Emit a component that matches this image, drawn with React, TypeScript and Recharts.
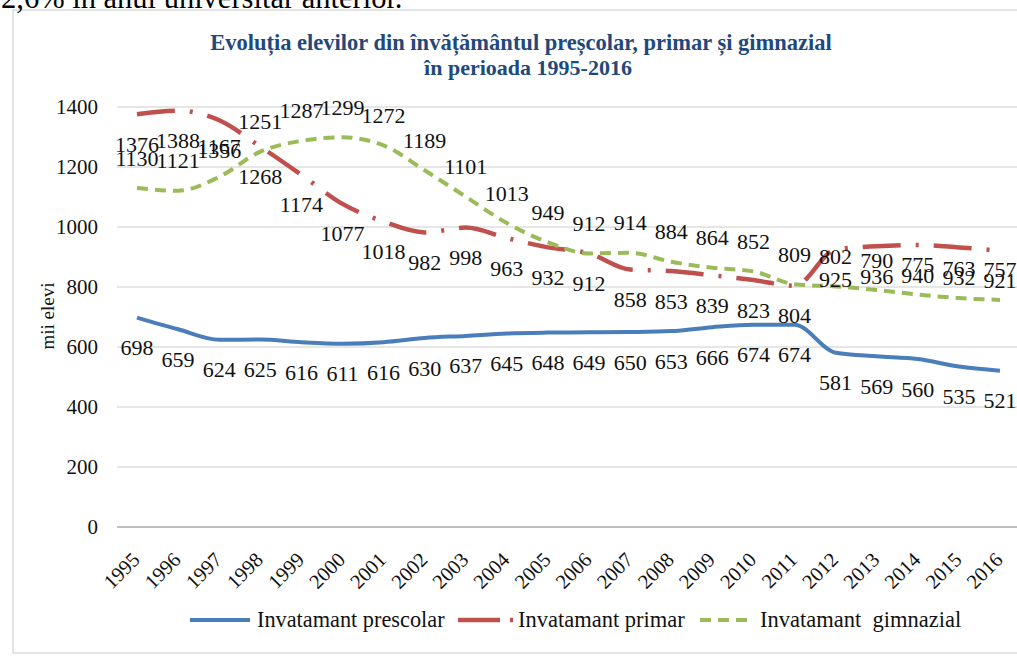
import React from 'react';
import { LineChart, Line, XAxis, YAxis, CartesianGrid, LabelList } from 'recharts';

const years = ['1995', '1996', '1997', '1998', '1999', '2000', '2001', '2002', '2003', '2004', '2005', '2006', '2007', '2008', '2009', '2010', '2011', '2012', '2013', '2014', '2015', '2016'];
const prescolar = [698, 659, 624, 625, 616, 611, 616, 630, 637, 645, 648, 649, 650, 653, 666, 674, 674, 581, 569, 560, 535, 521];
const primar = [1376, 1388, 1356, 1268, 1174, 1077, 1018, 982, 998, 963, 932, 912, 858, 853, 839, 823, 804, 925, 936, 940, 932, 921];
const gimnazial = [1130, 1121, 1167, 1251, 1287, 1299, 1272, 1189, 1101, 1013, 949, 912, 914, 884, 864, 852, 809, 802, 790, 775, 763, 757];
const yTicks = [0, 200, 400, 600, 800, 1000, 1200, 1400];

const seriesNames = ['Invatamant prescolar', 'Invatamant primar', 'Invatamant  gimnazial'];
const titleLines = ['Evoluția elevilor din învățământul preșcolar, primar și gimnazial', 'în perioada 1995-2016'];
const topText = '2,6% în anul universitar anterior.';
const yLabel = 'mii elevi';

const data = years.map((y, i) => ({
  year: y,
  prescolar: prescolar[i],
  primar: primar[i],
  gimnazial: gimnazial[i],
}));

const SERIF = '"Liberation Serif", "Times New Roman", serif';
const BLUE = '#4a7ebb';
const RED = '#c0504d';
const GREEN = '#9bbb59';

const makeLabel = (dy: number) => (props: any) => {
  const { x, y, value } = props;
  return (
    <text x={x} y={y + dy} textAnchor="middle" dominantBaseline="central" fontFamily={SERIF} fontSize={22} fill="#111">
      {value}
    </text>
  );
};

const XTick = (props: any) => {
  const { x, y, payload } = props;
  const ax = x + 4;
  const ay = y + 26;
  return (
    <text x={ax} y={ay} textAnchor="end" transform={`rotate(-45, ${ax}, ${ay})`} fontFamily={SERIF} fontSize={20.5} fill="#111">
      {payload.value}
    </text>
  );
};

export default function App() {
  return (
    <div style={{ position: 'absolute', left: 0, top: 0, width: 1017, height: 656, overflow: 'hidden', background: '#fff' }}>
      <svg width={1017} height={656} style={{ position: 'absolute', left: 0, top: 0 }}>
        <rect x={13} y={10} width={1020} height={643} fill="none" stroke="#dcdcdc" strokeWidth={1.5} />
        <text x={1} y={8} fontFamily={SERIF} fontSize={30.5} fill="#000">{topText}</text>
      </svg>
      <div style={{ position: 'absolute', left: 0, top: 0 }}>
        <LineChart width={1031} height={656} data={data} margin={{ top: 107, right: 10, bottom: 0, left: 57 }}>
          <CartesianGrid vertical={false} stroke="#dedede" strokeWidth={1.5} />
          <XAxis dataKey="year" interval={0} tickLine={false} padding={{ left: 20, right: 21 }} axisLine={{ stroke: '#bfbfbf', strokeWidth: 2 }} height={129} tick={<XTick />} />
          <YAxis domain={[0, 1400]} ticks={yTicks} axisLine={false} tickLine={false} width={60} tick={{ fontFamily: SERIF, fontSize: 21, fill: '#111', dx: -11 }} />
          <Line dataKey="prescolar" type="monotone" stroke={BLUE} strokeWidth={4} dot={false} isAnimationActive={false}>
            <LabelList dataKey="prescolar" content={makeLabel(30)} />
          </Line>
          <Line dataKey="primar" type="monotone" stroke={RED} strokeWidth={4.5} strokeDasharray="38 15 3 15" dot={false} isAnimationActive={false}>
            <LabelList dataKey="primar" content={makeLabel(30)} />
          </Line>
          <Line dataKey="gimnazial" type="monotone" stroke={GREEN} strokeWidth={4} strokeDasharray="11 7" dot={false} isAnimationActive={false}>
            <LabelList dataKey="gimnazial" content={makeLabel(-30)} />
          </Line>
        </LineChart>
      </div>
      <svg width={1017} height={656} style={{ position: 'absolute', left: 0, top: 0, pointerEvents: 'none' }}>
        <text x={521} y={50} textAnchor="middle" fontFamily={SERIF} fontWeight="bold" fontSize={22.5} fill="#1f497d">{titleLines[0]}</text>
        <text x={528} y={75} textAnchor="middle" fontFamily={SERIF} fontWeight="bold" fontSize={22} fill="#1f497d">{titleLines[1]}</text>
        <text transform="translate(54,316) rotate(-90)" textAnchor="middle" fontFamily={SERIF} fontSize={19} fill="#111">{yLabel}</text>
        <line x1={190} y1={620} x2={250} y2={620} stroke={BLUE} strokeWidth={4} />
        <text x={257} y={627} fontFamily={SERIF} fontSize={22.3} fill="#111">{seriesNames[0]}</text>
        <line x1={458} y1={620} x2={500} y2={620} stroke={RED} strokeWidth={4.5} />
        <line x1={510} y1={620} x2={513} y2={620} stroke={RED} strokeWidth={4.5} />
        <text x={518} y={627} fontFamily={SERIF} fontSize={22.5} fill="#111">{seriesNames[1]}</text>
        <line x1={700} y1={620} x2={748} y2={620} stroke={GREEN} strokeWidth={4} strokeDasharray="11 7" />
        <text x={760} y={627} fontFamily={SERIF} fontSize={22.5} fill="#111" style={{ whiteSpace: 'pre' }}>{seriesNames[2]}</text>
      </svg>
    </div>
  );
}
